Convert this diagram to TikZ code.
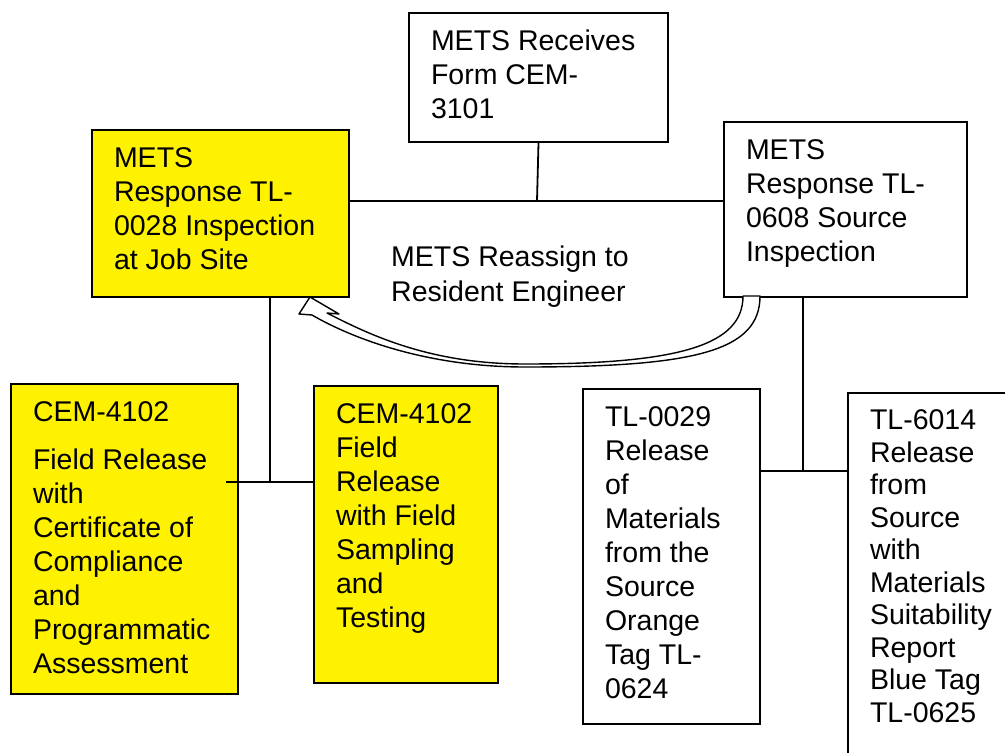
\documentclass[tikz,border=0pt]{standalone}
\usepackage{fontspec}
\setmainfont{Liberation Sans}
\usetikzlibrary{positioning}

\newcommand{\celltext}[3]{\parbox[t][\dimexpr#2pt-28pt\relax][t]{\dimexpr#1pt-44pt\relax}{\raggedright\strut#3}}

\begin{document}
\begin{tikzpicture}[x=1pt,y=-1pt,
cell/.style={rectangle, draw=black, line width=2pt, anchor=north west, inner xsep=22pt, inner ysep=14pt, font=\fontsize{28.5}{34}\selectfont},
yellowcell/.style={cell, fill=yellow},
link/.style={line width=1.8pt},
]
\useasboundingbox (0,0) rectangle (1005,753);
%Nodes
\node[cell]       (receives)  at (408,12)  {\celltext{259}{129}{METS Receives\\Form CEM-\\3101}};
\node[cell]       (source)    at (723,121) {\celltext{243}{175}{METS\\Response TL-\\0608 Source\\Inspection}};
\node[yellowcell] (jobsite)   at (91,129)  {\celltext{257}{167}{METS\\Response TL-\\0028 Inspection\\at Job Site}};
\node[yellowcell] (compliance) at (10,383) {\celltext{227}{310}{CEM-4102\\[14pt]Field Release\\with\\Certificate of\\Compliance\\and\\Programmatic\\Assessment}};
\node[yellowcell] (sampling)  at (313,385) {\celltext{184}{297}{CEM-4102\\Field\\Release\\with Field\\Sampling\\and\\Testing}};
\node[cell]       (orange)    at (582,388) {\celltext{177}{335}{TL-0029\\Release\\of\\Materials\\from the\\Source\\Orange\\Tag TL-\\0624}};
\node[cell, font=\fontsize{28.5}{32.5}\selectfont] (blue) at (847,392) {\celltext{200}{390}{TL-6014\\Release\\from\\Source\\with\\Materials\\Suitability\\Report\\Blue Tag\\TL-0625}};
\node[anchor=west, inner sep=0pt, align=left, font=\fontsize{28.5}{35}\selectfont] (reassign) at (391,277) {METS Reassign to\\Resident Engineer};

%Lines
\coordinate (topjoin) at (537,201);
\coordinate (leftjoin) at (270,482);
\coordinate (lefttail) at (226,482);
\coordinate (rightjoin) at (803,471);
\draw[link] (receives.south) -- (topjoin);
\draw[link] (jobsite.east |- topjoin) -- (source.west |- topjoin);
\draw[link] (leftjoin |- jobsite.south) -- (leftjoin);
\draw[link] (lefttail) -- (sampling.west |- lefttail);
\draw[link] (rightjoin |- source.south) -- (rightjoin);
\draw[link] (orange.east |- rightjoin) -- (blue.west |- rightjoin);

%Reassign arrow
\draw[line width=1.4pt, fill=white, line join=round]
  (310,297) -- (299,314) -- (312,315)
  .. controls (355,340) and (430,367) .. (525,367)
  .. controls (695,367) and (760,351) .. (760,296)
  -- (743,296)
  .. controls (743,345) and (680,364) .. (525,364)
  .. controls (430,364) and (370,335) .. (327,313)
  -- (339,314) -- cycle;
\end{tikzpicture}
\end{document}
